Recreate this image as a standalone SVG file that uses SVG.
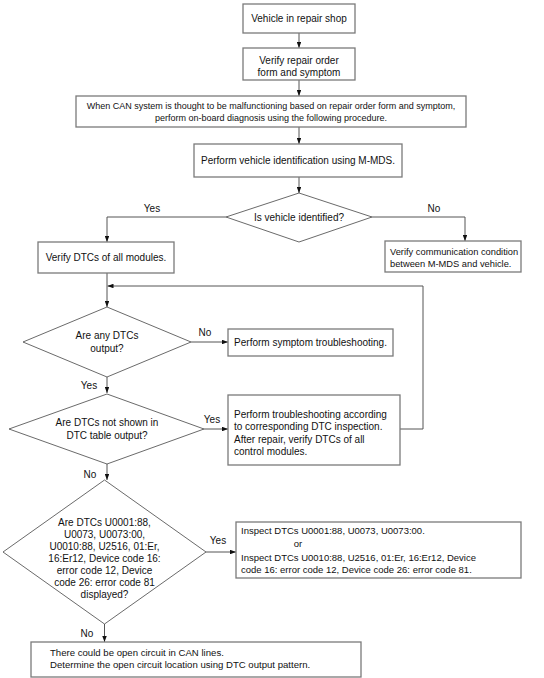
<svg xmlns="http://www.w3.org/2000/svg" width="544" height="678" viewBox="0 0 544 678">
<style>
.box{fill:#fff;stroke:#7a7a7a;stroke-width:1.3}
.dia{fill:#fff;stroke:#444;stroke-width:0.8}
.ln{fill:none;stroke:#555;stroke-width:1}
text{font-family:"Liberation Sans",Arial,sans-serif;font-size:10px;fill:#111}
.c{text-anchor:middle}
.s9{font-size:9px}
.s93{font-size:9.3px}
.s95{font-size:9.5px}
.s96{font-size:9.6px}
</style>
<defs>
<marker id="ah" viewBox="0 0 8 6" refX="8" refY="3" markerWidth="6" markerHeight="4.5" orient="auto" markerUnits="userSpaceOnUse">
<path d="M0,0 L8,3 L0,6 Z" fill="#111"/>
</marker>
</defs>
<rect width="544" height="678" fill="#fff"/>
<g id="connectors">
<path class="ln" d="M299,33 V48" marker-end="url(#ah)"/>
<path class="ln" d="M299,80 V96" marker-end="url(#ah)"/>
<path class="ln" d="M299,127 V144" marker-end="url(#ah)"/>
<path class="ln" d="M299,177 V193" marker-end="url(#ah)"/>
<path class="ln" d="M226,217 H107 V242" marker-end="url(#ah)"/>
<path class="ln" d="M372,217 H465 V241" marker-end="url(#ah)"/>
<path class="ln" d="M107,273 V307" marker-end="url(#ah)"/>
<path class="ln" d="M400,429 H423 V286 H107.5" marker-end="url(#ah)"/>
<path class="ln" d="M191,342 H228" marker-end="url(#ah)"/>
<path class="ln" d="M107,377 V393" marker-end="url(#ah)"/>
<path class="ln" d="M204,429 H228" marker-end="url(#ah)"/>
<path class="ln" d="M107,464 V480" marker-end="url(#ah)"/>
<path class="ln" d="M206,552 H236" marker-end="url(#ah)"/>
<path class="ln" d="M104.5,624 V642" marker-end="url(#ah)"/>
<text x="152" y="212" class="c">Yes</text>
<text x="434" y="212" class="c">No</text>
<text x="205" y="336" class="c">No</text>
<text x="89" y="389" class="c">Yes</text>
<text x="212" y="422.5" class="c">Yes</text>
<text x="90" y="477.5" class="c">No</text>
<text x="218" y="543.5" class="c">Yes</text>
<text x="87" y="636.5" class="c">No</text>
</g>
<g id="n1"><rect class="box" x="243" y="4" width="112" height="29"/><text x="299" y="22" class="c">Vehicle in repair shop</text></g>
<g id="n2"><rect class="box" x="243" y="48" width="112" height="32"/><text x="299" y="63.5" class="c">Verify repair order</text><text x="299" y="76" class="c">form and symptom</text></g>
<g id="n3"><rect class="box" x="76" y="96" width="390" height="31"/><text x="271" y="108.5" class="c s9">When CAN system is thought to be malfunctioning based on repair order form and symptom,</text><text x="271" y="120.5" class="c s9">perform on-board diagnosis using the following procedure.</text></g>
<g id="n4"><rect class="box" x="194" y="144" width="208" height="33"/><text x="298" y="164" class="c">Perform vehicle identification using M-MDS.</text></g>
<g id="d1"><polygon class="dia" points="299,193 372,217 299,242 226,217"/><text x="299" y="220.5" class="c">Is vehicle identified?</text></g>
<g id="n5"><rect class="box" x="38" y="242" width="136" height="31"/><text x="106" y="261" class="c">Verify DTCs of all modules.</text></g>
<g id="n6"><rect class="box" x="385" y="241" width="136" height="31"/><text x="390" y="254.5" class="s93">Verify communication condition</text><text x="390" y="266.5" class="s93">between M-MDS and vehicle.</text></g>
<g id="d2"><polygon class="dia" points="107,307 191,342 107,377 23,342"/><text x="107" y="339" class="c">Are any DTCs</text><text x="107" y="351.5" class="c">output?</text></g>
<g id="n7"><rect class="box" x="228" y="329" width="165" height="27"/><text x="310.5" y="345.5" class="c">Perform symptom troubleshooting.</text></g>
<g id="d3"><polygon class="dia" points="107,394 204,429 107,464 9,429"/><text x="107" y="426" class="c">Are DTCs not shown in</text><text x="107" y="439" class="c">DTC table output?</text></g>
<g id="n8"><rect class="box" x="228" y="395" width="172" height="70"/><text x="234" y="417.5">Perform troubleshooting according</text><text x="234" y="430">to corresponding DTC inspection.</text><text x="234" y="442.5">After repair, verify DTCs of all</text><text x="234" y="455">control modules.</text></g>
<g id="d4"><polygon class="dia" points="104.5,480 206,552 104.5,624 3,552"/><text x="104.5" y="525.5" class="c">Are DTCs U0001:88,</text><text x="104.5" y="537.5" class="c">U0073, U0073:00,</text><text x="104.5" y="549.5" class="c">U0010:88, U2516, 01:Er,</text><text x="104.5" y="561.5" class="c">16:Er12, Device code 16:</text><text x="104.5" y="573.5" class="c">error code 12, Device</text><text x="104.5" y="585.5" class="c">code 26: error code 81</text><text x="104.5" y="597.5" class="c">displayed?</text></g>
<g id="n9"><rect class="box" x="236" y="522" width="285" height="56"/><text x="241" y="533.5" class="s95">Inspect DTCs U0001:88, U0073, U0073:00.</text><text x="298" y="546.5" class="c s95">or</text><text x="241" y="560.5" class="s95">Inspect DTCs U0010:88, U2516, 01:Er, 16:Er12, Device</text><text x="241" y="573" class="s95">code 16: error code 12, Device code 26: error code 81.</text></g>
<g id="n10"><rect class="box" x="31" y="642" width="330" height="35"/><text x="50" y="656" class="s96">There could be open circuit in CAN lines.</text><text x="50" y="667.5" class="s96">Determine the open circuit location using DTC output pattern.</text></g>
</svg>
